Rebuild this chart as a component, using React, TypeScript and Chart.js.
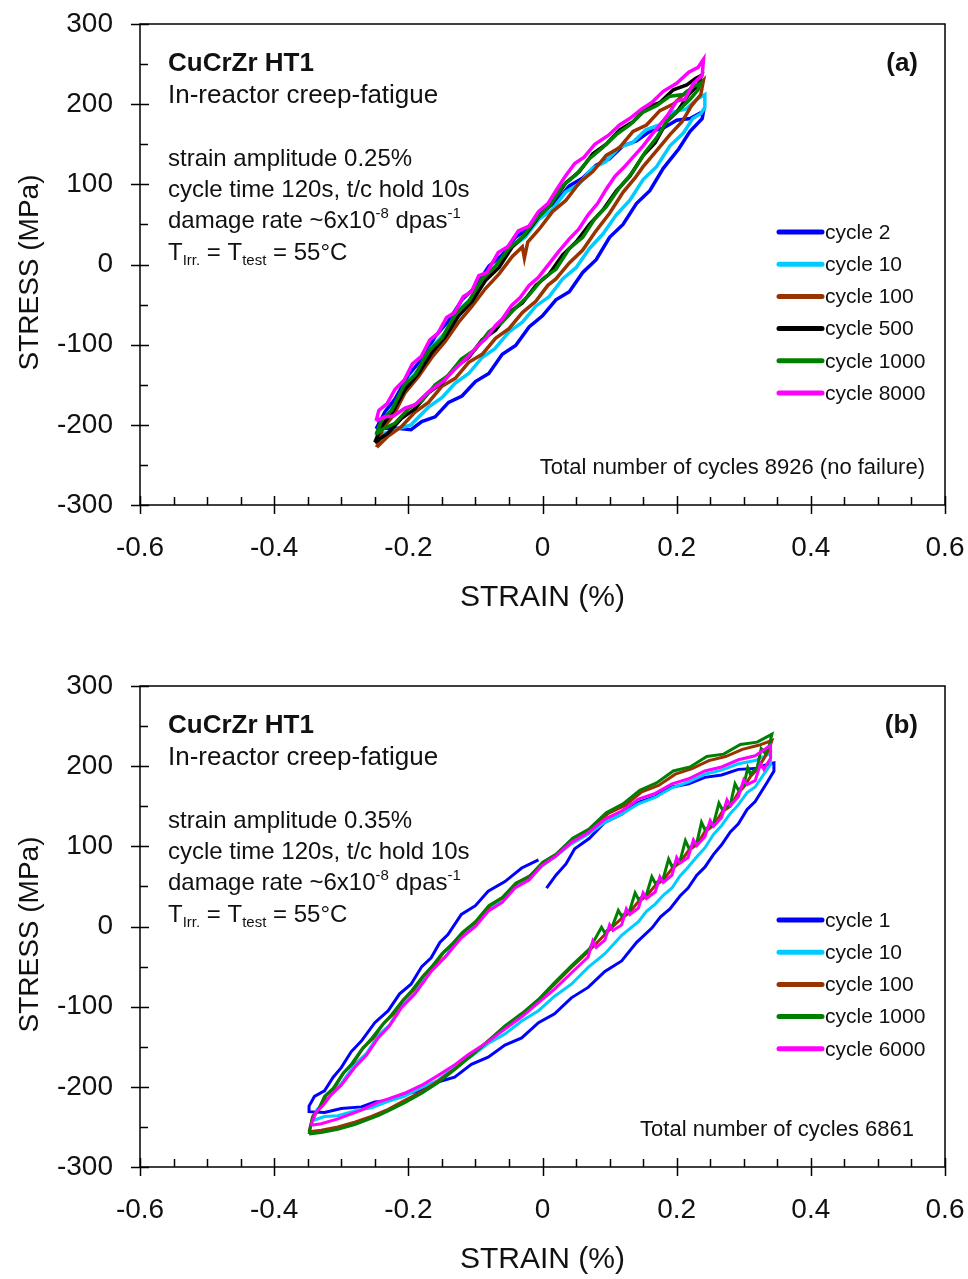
import React, { useEffect, useRef } from 'react';
import { Chart, registerables } from 'chart.js';

Chart.register(...registerables);

const FONT = '"Liberation Sans", Arial, Helvetica, sans-serif';
const TEXT = '#111111';

// ---------- axes ----------
const X_TICKS = [-0.6, -0.4, -0.2, 0, 0.2, 0.4, 0.6];
const Y_TICKS = [-300, -200, -100, 0, 100, 200, 300];
const X_TITLE = 'STRAIN (%)';
const Y_TITLE = 'STRESS (MPa)';

// ---------- panel (a) ----------
const A_LABELS = ['cycle 2', 'cycle 10', 'cycle 100', 'cycle 500', 'cycle 1000', 'cycle 8000'];
const A_COLORS = ['#0000FF', '#00CCFF', '#993300', '#000000', '#008000', '#FF00FF'];
const A_ORDER = [5, 4, 3, 2, 1, 0];

const A_CYCLE2: [number, number][] = [
  [-0.248, -205], [-0.235, -184], [-0.22, -168], [-0.2, -138], [-0.18, -118], [-0.16, -90], [-0.14, -70], [-0.12, -44],
  [-0.1, -28], [-0.08, -2], [-0.06, 12], [-0.04, 34], [-0.02, 46], [0, 66], [0.02, 78], [0.04, 98], [0.06, 108],
  [0.08, 124], [0.1, 132], [0.12, 148], [0.14, 154], [0.16, 166], [0.18, 170], [0.2, 180], [0.22, 182], [0.24, 191],
  [0.238, 182], [0.22, 166], [0.203, 144], [0.18, 120], [0.16, 92], [0.14, 76], [0.12, 50], [0.1, 34], [0.08, 6],
  [0.06, -10], [0.04, -34], [0.02, -44], [0, -64], [-0.02, -78], [-0.04, -101], [-0.06, -112], [-0.08, -136],
  [-0.1, -146], [-0.12, -164], [-0.14, -172], [-0.16, -190], [-0.18, -196], [-0.196, -206], [-0.22, -204], [-0.248, -205],
];
const A_CYCLE10: [number, number][] = [
  [-0.248, -214], [-0.238, -194], [-0.222, -178], [-0.204, -150], [-0.186, -132], [-0.166, -104], [-0.146, -86],
  [-0.126, -58], [-0.106, -42], [-0.086, -16], [-0.066, -2], [-0.046, 22], [-0.026, 34], [-0.006, 56], [0.014, 68],
  [0.034, 90], [0.054, 100], [0.074, 120], [0.094, 128], [0.114, 146], [0.134, 152], [0.154, 168], [0.174, 174],
  [0.194, 190], [0.214, 194], [0.23, 206], [0.242, 212],
  [0.242, 196], [0.236, 188], [0.224, 182], [0.21, 164], [0.19, 148], [0.17, 122], [0.15, 106], [0.13, 80], [0.11, 62],
  [0.09, 38], [0.07, 20], [0.05, -4], [0.03, -18], [0.01, -40], [-0.01, -52], [-0.03, -72], [-0.05, -84], [-0.071, -105],
  [-0.09, -116], [-0.11, -136], [-0.13, -148], [-0.15, -166], [-0.17, -178], [-0.196, -200], [-0.22, -206], [-0.248, -214],
];
const A_CYCLE100: [number, number][] = [
  [-0.247, -228], [-0.238, -204], [-0.222, -188], [-0.205, -160], [-0.185, -140], [-0.165, -116], [-0.145, -96],
  [-0.125, -72], [-0.105, -52], [-0.085, -30], [-0.065, -12], [-0.045, 10], [-0.03, 22], [-0.027, 8], [-0.022, 28],
  [-0.005, 44], [0.015, 66], [0.035, 80], [0.055, 102], [0.075, 116], [0.095, 136], [0.115, 146], [0.135, 166],
  [0.155, 174], [0.175, 192], [0.195, 200], [0.215, 216], [0.23, 222], [0.24, 230],
  [0.236, 212], [0.222, 198], [0.208, 178], [0.19, 162], [0.168, 140], [0.15, 122], [0.138, 108], [0.12, 90], [0.1, 64],
  [0.078, 40], [0.06, 18], [0.04, 2], [0.02, -18], [0.008, -26], [-0.01, -46], [-0.03, -60], [-0.05, -80], [-0.07, -92],
  [-0.09, -112], [-0.11, -122], [-0.13, -142], [-0.15, -152], [-0.17, -172], [-0.19, -184], [-0.21, -202], [-0.23, -214],
  [-0.247, -228],
];
const A_CYCLE500: [number, number][] = [
  [-0.25, -222], [-0.24, -202], [-0.222, -182], [-0.205, -156], [-0.185, -136], [-0.165, -110], [-0.145, -90],
  [-0.125, -64], [-0.105, -46], [-0.085, -20], [-0.065, -4], [-0.045, 22], [-0.025, 38], [-0.005, 60], [0.015, 78],
  [0.035, 102], [0.055, 116], [0.075, 138], [0.095, 150], [0.115, 168], [0.135, 178], [0.155, 196], [0.175, 202],
  [0.195, 218], [0.215, 224], [0.228, 232], [0.237, 236],
  [0.232, 224], [0.218, 212], [0.2, 190], [0.185, 178], [0.168, 152], [0.15, 136], [0.13, 110], [0.11, 92], [0.09, 68],
  [0.07, 50], [0.05, 28], [0.03, 12], [0.01, -12], [-0.01, -26], [-0.03, -48], [-0.05, -60], [-0.07, -82], [-0.09, -94],
  [-0.11, -116], [-0.13, -128], [-0.15, -148], [-0.17, -160], [-0.19, -180], [-0.21, -192], [-0.23, -210], [-0.25, -222],
];
const A_CYCLE1000: [number, number][] = [
  [-0.248, -212], [-0.24, -194], [-0.225, -182], [-0.206, -150], [-0.19, -138], [-0.17, -108], [-0.15, -92],
  [-0.13, -62], [-0.11, -46], [-0.09, -18], [-0.07, -2], [-0.05, 20], [-0.03, 34], [-0.01, 56], [0.01, 72], [0.03, 98],
  [0.05, 112], [0.07, 132], [0.09, 146], [0.11, 162], [0.13, 174], [0.15, 190], [0.17, 198], [0.19, 210], [0.21, 212],
  [0.225, 222], [0.235, 226],
  [0.232, 218], [0.22, 206], [0.205, 194], [0.188, 182], [0.17, 158], [0.153, 140], [0.135, 116], [0.115, 96],
  [0.095, 72], [0.078, 57], [0.06, 34], [0.04, 20], [0.02, -6], [0, -18], [-0.021, -39], [-0.04, -54], [-0.06, -72],
  [-0.08, -84], [-0.1, -106], [-0.121, -118], [-0.14, -138], [-0.16, -150], [-0.18, -170], [-0.2, -180], [-0.22, -198],
  [-0.24, -206], [-0.248, -212],
];
const A_CYCLE8000: [number, number][] = [
  [-0.248, -195], [-0.244, -182], [-0.232, -174], [-0.22, -156], [-0.206, -144], [-0.194, -124], [-0.181, -115],
  [-0.168, -94], [-0.156, -86], [-0.143, -66], [-0.131, -60], [-0.118, -40], [-0.106, -34], [-0.095, -14], [-0.083, -10],
  [-0.066, 15], [-0.052, 22], [-0.036, 42], [-0.02, 48], [-0.006, 66], [0.008, 76], [0.02, 92], [0.034, 110],
  [0.048, 126], [0.062, 134], [0.078, 150], [0.098, 161], [0.115, 174], [0.13, 182], [0.148, 194], [0.163, 202],
  [0.18, 216], [0.2, 226], [0.218, 240], [0.232, 246], [0.24, 256],
  [0.238, 236], [0.225, 226], [0.212, 206], [0.2, 204], [0.188, 188], [0.175, 174], [0.163, 162], [0.15, 148],
  [0.135, 134], [0.12, 120], [0.108, 110], [0.095, 94], [0.082, 76], [0.068, 62], [0.054, 44], [0.04, 32], [0.024, 16],
  [0.008, -1], [-0.006, -16], [-0.02, -26], [-0.034, -42], [-0.046, -51], [-0.06, -68], [-0.07, -76], [-0.084, -92],
  [-0.096, -101], [-0.112, -116], [-0.13, -130], [-0.148, -146], [-0.17, -159], [-0.19, -175], [-0.205, -179],
  [-0.222, -189], [-0.235, -190], [-0.248, -195],
];

// ---------- panel (b) ----------
const B_LABELS = ['cycle 1', 'cycle 10', 'cycle 100', 'cycle 1000', 'cycle 6000'];
const B_COLORS = ['#0000FF', '#00CCFF', '#993300', '#008000', '#FF00FF'];
const B_ORDER = [4, 3, 2, 1, 0];

const B_CYCLE1: [number, number][] = [
  [0.006, 48], [0.02, 64], [0.035, 78], [0.048, 97], [0.07, 110], [0.093, 130], [0.118, 140], [0.143, 155], [0.168, 162],
  [0.193, 174], [0.218, 178], [0.242, 186], [0.267, 189], [0.292, 196], [0.317, 197], [0.335, 202], [0.345, 204],
  [0.345, 194], [0.335, 180], [0.317, 156], [0.305, 146], [0.292, 128], [0.28, 118], [0.267, 102], [0.255, 90],
  [0.242, 74], [0.23, 64], [0.217, 48], [0.205, 38], [0.19, 22], [0.176, 12], [0.163, -2], [0.14, -20], [0.118, -43],
  [0.093, -56], [0.068, -76], [0.043, -89], [0.018, -109], [-0.006, -120], [-0.031, -139], [-0.056, -148], [-0.081, -163],
  [-0.106, -172], [-0.131, -188], [-0.156, -194], [-0.181, -205], [-0.206, -209], [-0.23, -217], [-0.25, -219],
  [-0.27, -225], [-0.3, -227], [-0.325, -232], [-0.348, -231],
  [-0.348, -224], [-0.34, -212], [-0.325, -205], [-0.312, -188], [-0.3, -176], [-0.285, -156], [-0.27, -143],
  [-0.25, -120], [-0.23, -105], [-0.213, -84], [-0.196, -72], [-0.18, -50], [-0.166, -39], [-0.153, -20], [-0.141, -10],
  [-0.121, 15], [-0.1, 26], [-0.081, 44], [-0.056, 56], [-0.031, 73], [-0.006, 83],
];
const B_CYCLE10: [number, number][] = [
  [-0.342, -242], [-0.336, -228], [-0.326, -222], [-0.313, -206], [-0.3, -196], [-0.28, -172], [-0.262, -158],
  [-0.245, -136], [-0.228, -123], [-0.21, -98], [-0.19, -82], [-0.166, -53], [-0.145, -38], [-0.121, -11], [-0.1, 1],
  [-0.081, 22], [-0.06, 31], [-0.041, 49], [-0.02, 60], [-0.001, 75], [0.02, 88], [0.043, 103], [0.068, 115],
  [0.093, 130], [0.118, 140], [0.143, 153], [0.168, 161], [0.193, 173], [0.217, 180], [0.242, 190], [0.267, 195],
  [0.292, 203], [0.317, 207], [0.34, 216],
  [0.34, 202], [0.33, 190], [0.317, 174], [0.305, 167], [0.292, 152], [0.28, 141], [0.267, 126], [0.255, 115],
  [0.242, 98], [0.23, 87], [0.217, 74], [0.205, 63], [0.193, 48], [0.18, 39], [0.168, 28], [0.155, 19], [0.143, 6],
  [0.118, -11], [0.093, -34], [0.068, -51], [0.043, -72], [0.018, -87], [-0.006, -105], [-0.031, -118], [-0.056, -134],
  [-0.081, -146], [-0.106, -162], [-0.131, -175], [-0.156, -192], [-0.181, -201], [-0.206, -212], [-0.23, -218],
  [-0.255, -226], [-0.28, -230], [-0.305, -236], [-0.325, -237], [-0.342, -242],
];
const B_CYCLE100: [number, number][] = [
  [-0.348, -256], [-0.342, -236], [-0.333, -228], [-0.322, -210], [-0.31, -201], [-0.296, -182], [-0.282, -170],
  [-0.267, -151], [-0.252, -139], [-0.237, -121], [-0.222, -109], [-0.207, -91], [-0.192, -79], [-0.177, -61],
  [-0.162, -49], [-0.147, -32], [-0.132, -21], [-0.117, -6], [-0.097, 7], [-0.077, 27], [-0.057, 37], [-0.037, 55],
  [-0.017, 64], [0.003, 81], [0.023, 91], [0.048, 111], [0.073, 122], [0.098, 141], [0.123, 151], [0.148, 168],
  [0.173, 176], [0.198, 190], [0.223, 197], [0.248, 207], [0.273, 212], [0.298, 221], [0.322, 226], [0.342, 232],
  [0.338, 222], [0.332, 212], [0.32, 196], [0.31, 187], [0.3, 174], [0.292, 167], [0.28, 150], [0.268, 143],
  [0.255, 126], [0.242, 118], [0.23, 102], [0.218, 95], [0.205, 80], [0.193, 72], [0.18, 58], [0.168, 51], [0.155, 38],
  [0.143, 31], [0.13, 18], [0.118, 10], [0.105, 0], [0.093, -10], [0.07, -30], [0.043, -51], [0.018, -72],
  [-0.006, -92], [-0.03, -109], [-0.056, -125], [-0.08, -142], [-0.106, -160], [-0.13, -177], [-0.156, -193],
  [-0.18, -206], [-0.206, -217], [-0.23, -228], [-0.255, -237], [-0.28, -244], [-0.305, -250], [-0.33, -254],
  [-0.348, -256],
];
const B_CYCLE1000: [number, number][] = [
  [-0.348, -259], [-0.343, -238], [-0.335, -230], [-0.325, -212], [-0.312, -202], [-0.298, -184], [-0.285, -172],
  [-0.27, -154], [-0.255, -140], [-0.24, -124], [-0.225, -110], [-0.21, -94], [-0.195, -80], [-0.18, -64], [-0.165, -50],
  [-0.15, -34], [-0.135, -22], [-0.12, -8], [-0.1, 6], [-0.08, 26], [-0.06, 36], [-0.04, 54], [-0.02, 62], [0, 80],
  [0.02, 90], [0.045, 110], [0.07, 122], [0.095, 142], [0.12, 153], [0.145, 170], [0.17, 179], [0.195, 194],
  [0.22, 199], [0.245, 212], [0.27, 215], [0.295, 227], [0.32, 230], [0.342, 240],
  [0.338, 226], [0.332, 216], [0.326, 222], [0.32, 198], [0.31, 190], [0.306, 198], [0.3, 176], [0.292, 170],
  [0.287, 178], [0.28, 152], [0.268, 146], [0.263, 154], [0.255, 128], [0.242, 121], [0.237, 130], [0.23, 104],
  [0.218, 98], [0.213, 107], [0.205, 82], [0.193, 75], [0.188, 84], [0.18, 60], [0.168, 54], [0.163, 62], [0.155, 40],
  [0.143, 34], [0.138, 42], [0.13, 20], [0.118, 13], [0.113, 20], [0.105, 2], [0.093, -8], [0.088, -1], [0.07, -28],
  [0.043, -49], [0.018, -70], [-0.006, -91], [-0.03, -108], [-0.056, -124], [-0.08, -142], [-0.106, -161],
  [-0.13, -178], [-0.156, -195], [-0.18, -208], [-0.206, -220], [-0.23, -230], [-0.245, -236], [-0.28, -247],
  [-0.305, -253], [-0.33, -257], [-0.348, -259],
];
const B_CYCLE6000: [number, number][] = [
  [-0.345, -248], [-0.338, -232], [-0.328, -224], [-0.315, -210], [-0.3, -198], [-0.28, -176], [-0.262, -160],
  [-0.245, -139], [-0.228, -124], [-0.21, -101], [-0.19, -84], [-0.166, -56], [-0.145, -38], [-0.121, -14], [-0.1, 0],
  [-0.081, 19], [-0.06, 30], [-0.041, 48], [-0.02, 58], [-0.001, 76], [0.02, 88], [0.043, 105], [0.068, 117],
  [0.093, 134], [0.118, 144], [0.143, 159], [0.168, 166], [0.193, 178], [0.217, 184], [0.242, 194], [0.267, 199],
  [0.292, 208], [0.317, 213], [0.34, 226],
  [0.34, 210], [0.33, 196], [0.325, 203], [0.317, 182], [0.305, 177], [0.3, 183], [0.292, 162], [0.28, 151],
  [0.275, 158], [0.267, 136], [0.255, 125], [0.25, 132], [0.242, 112], [0.23, 101], [0.225, 108], [0.217, 86],
  [0.205, 79], [0.2, 86], [0.193, 64], [0.18, 55], [0.175, 62], [0.168, 43], [0.155, 35], [0.15, 42], [0.143, 23],
  [0.13, 15], [0.125, 22], [0.118, 2], [0.105, -5], [0.1, 2], [0.093, -17], [0.08, -26], [0.075, -18], [0.068, -38],
  [0.043, -58], [0.018, -78], [-0.006, -95], [-0.03, -112], [-0.056, -128], [-0.08, -143], [-0.111, -160],
  [-0.13, -172], [-0.156, -186], [-0.18, -198], [-0.206, -208], [-0.23, -215], [-0.245, -219], [-0.27, -229],
  [-0.305, -240], [-0.33, -246], [-0.345, -248],
];

// ---------- annotation text ----------
const TITLE = 'CuCrZr HT1';
const SUBTITLE = 'In-reactor creep-fatigue';
const A_AMPLITUDE = 'strain amplitude 0.25%';
const B_AMPLITUDE = 'strain amplitude 0.35%';
const CYCLE_TIME = 'cycle time 120s, t/c hold 10s';
const A_TAG = '(a)';
const B_TAG = '(b)';
const A_TOTAL = 'Total number of cycles 8926 (no failure)';
const B_TOTAL = 'Total number of cycles 6861';

type Seg = { t: string; sup?: boolean; sub?: boolean };
const DAMAGE: Seg[] = [{ t: 'damage rate ~6x10' }, { t: '-8', sup: true }, { t: ' dpas' }, { t: '-1', sup: true }];
const TEMP: Seg[] = [{ t: 'T' }, { t: 'Irr.', sub: true }, { t: ' = T' }, { t: 'test', sub: true }, { t: ' = 55°C' }];

type PanelInfo = {
  tag: string;
  amplitude: string;
  total: string;
  totalRight: number;
  legendTop: number;
  labels: string[];
  colors: string[];
  lineWidth: number;
};

function drawRich(ctx: CanvasRenderingContext2D, x: number, y: number, segs: Seg[], size: number) {
  let cx = x;
  for (const s of segs) {
    const small = s.sup || s.sub;
    const fs = small ? Math.round(size * 0.62) : size;
    ctx.font = `${fs}px ${FONT}`;
    const dy = s.sup ? -size * 0.4 : s.sub ? size * 0.2 : 0;
    ctx.fillText(s.t, cx, y + dy);
    cx += ctx.measureText(s.t).width;
  }
}

function makeDecor(info: PanelInfo) {
  return {
    id: 'decor',
    afterDraw(chart: any) {
      const { ctx, chartArea: ca, scales } = chart;
      const xs = scales.x;
      const ys = scales.y;
      ctx.save();
      // frame
      ctx.strokeStyle = '#000';
      ctx.lineWidth = 1.5;
      ctx.strokeRect(ca.left, ca.top, ca.right - ca.left, ca.bottom - ca.top);
      // tick marks
      ctx.beginPath();
      for (let i = 0; i < X_TICKS.length; i++) {
        const px = Math.round(xs.getPixelForValue(X_TICKS[i])) + 0.5;
        ctx.moveTo(px, ca.bottom - 9);
        ctx.lineTo(px, ca.bottom + 9);
        if (i < X_TICKS.length - 1) {
          const step = (X_TICKS[i + 1] - X_TICKS[i]) / 4;
          for (let k = 1; k < 4; k++) {
            const mx = Math.round(xs.getPixelForValue(X_TICKS[i] + k * step)) + 0.5;
            ctx.moveTo(mx, ca.bottom);
            ctx.lineTo(mx, ca.bottom - 8);
          }
        }
      }
      for (let i = 0; i < Y_TICKS.length; i++) {
        const py = Math.round(ys.getPixelForValue(Y_TICKS[i])) + 0.5;
        ctx.moveTo(ca.left - 9, py);
        ctx.lineTo(ca.left + 9, py);
        if (i < Y_TICKS.length - 1) {
          const my = Math.round(ys.getPixelForValue((Y_TICKS[i] + Y_TICKS[i + 1]) / 2)) + 0.5;
          ctx.moveTo(ca.left, my);
          ctx.lineTo(ca.left + 8, my);
        }
      }
      ctx.stroke();

      // y-axis title
      ctx.fillStyle = TEXT;
      ctx.save();
      ctx.translate(30, (ca.top + ca.bottom) / 2 + 8);
      ctx.rotate(-Math.PI / 2);
      ctx.textAlign = 'center';
      ctx.textBaseline = 'middle';
      ctx.font = `28px ${FONT}`;
      ctx.fillText(Y_TITLE, 0, 0);
      ctx.restore();

      // annotation text
      ctx.textBaseline = 'alphabetic';
      ctx.textAlign = 'left';
      const tx = ca.left + 28;
      ctx.font = `bold 26px ${FONT}`;
      ctx.fillText(TITLE, tx, ca.top + 47);
      ctx.font = `26px ${FONT}`;
      ctx.fillText(SUBTITLE, tx, ca.top + 79);
      ctx.font = `24px ${FONT}`;
      ctx.fillText(info.amplitude, tx, ca.top + 142);
      ctx.fillText(CYCLE_TIME, tx, ca.top + 173);
      drawRich(ctx, tx, ca.top + 204, DAMAGE, 24);
      drawRich(ctx, tx, ca.top + 236, TEMP, 24);
      ctx.textAlign = 'right';
      ctx.font = `bold 26px ${FONT}`;
      ctx.fillText(info.tag, ca.right - 27, ca.top + 47);
      ctx.font = `22px ${FONT}`;
      ctx.fillText(info.total, info.totalRight, ca.top + 450);

      // legend
      ctx.textAlign = 'left';
      ctx.textBaseline = 'middle';
      ctx.font = `21px ${FONT}`;
      ctx.lineCap = 'round';
      for (let i = 0; i < info.labels.length; i++) {
        const y = info.legendTop + i * 32.2;
        ctx.strokeStyle = info.colors[i];
        ctx.lineWidth = 5;
        ctx.beginPath();
        ctx.moveTo(779, y);
        ctx.lineTo(822, y);
        ctx.stroke();
        ctx.fillStyle = TEXT;
        ctx.fillText(info.labels[i], 825, y + 1);
      }
      ctx.restore();
    },
  };
}

function buildConfig(series: [number, number][][], info: PanelInfo, orders: number[]) {
  const datasets = series.map((arr, i) => ({
    label: info.labels[i],
    data: arr.map(([x, y]) => ({ x, y })),
    borderColor: info.colors[i],
    backgroundColor: info.colors[i],
    borderWidth: info.lineWidth,
    showLine: true,
    pointRadius: 0,
    tension: 0,
    fill: false,
    order: orders[i],
  }));
  return {
    type: 'scatter' as const,
    data: { datasets },
    options: {
      animation: false as const,
      responsive: false,
      maintainAspectRatio: false,
      devicePixelRatio: 1,
      layout: { padding: { top: 24, right: 23, left: 0, bottom: 0 } },
      plugins: { legend: { display: false }, tooltip: { enabled: false } },
      scales: {
        x: {
          type: 'linear' as const,
          min: -0.6,
          max: 0.6,
          afterBuildTicks: (s: any) => {
            s.ticks = X_TICKS.map((v) => ({ value: v }));
          },
          afterFit: (s: any) => {
            s.height = 112;
            s.paddingLeft = 0;
            s.paddingRight = 0;
            s.paddingTop = 0;
            s.paddingBottom = 0;
          },
          grid: { display: false, drawTicks: false },
          border: { display: false },
          ticks: {
            padding: 26,
            color: TEXT,
            font: { family: FONT, size: 28 },
            maxRotation: 0,
            autoSkip: false,
            callback: (v: any) => (Math.abs(Number(v)) < 1e-9 ? '0' : Number(v).toFixed(1)),
          },
          title: { display: true, text: X_TITLE, color: TEXT, font: { family: FONT, size: 30 }, padding: { top: 0, bottom: 1 } },
        },
        y: {
          type: 'linear' as const,
          min: -300,
          max: 300,
          afterBuildTicks: (s: any) => {
            s.ticks = Y_TICKS.map((v) => ({ value: v }));
          },
          afterFit: (s: any) => {
            s.width = 140;
            s.paddingLeft = 0;
            s.paddingRight = 0;
            s.paddingTop = 0;
            s.paddingBottom = 0;
          },
          grid: { display: false, drawTicks: false },
          border: { display: false },
          ticks: {
            padding: 27,
            color: TEXT,
            font: { family: FONT, size: 28 },
            autoSkip: false,
            callback: (v: any) => String(Math.round(Number(v))),
          },
          title: { display: false },
        },
      },
    },
    plugins: [makeDecor(info)],
  };
}

function Panel(props: { top: number; series: [number, number][][]; info: PanelInfo; orders: number[] }) {
  const ref = useRef<HTMLCanvasElement | null>(null);
  useEffect(() => {
    if (!ref.current) return;
    const chart = new Chart(ref.current, buildConfig(props.series, props.info, props.orders) as any);
    return () => chart.destroy();
  }, []);
  return (
    <canvas
      ref={ref}
      width={968}
      height={617}
      style={{ position: 'absolute', left: 0, top: props.top, width: 968, height: 617, display: 'block' }}
    />
  );
}

const A_INFO: PanelInfo = {
  tag: A_TAG,
  amplitude: A_AMPLITUDE,
  total: A_TOTAL,
  totalRight: 925,
  legendTop: 232,
  labels: A_LABELS,
  colors: A_COLORS,
  lineWidth: 3.5,
};
const B_INFO: PanelInfo = {
  tag: B_TAG,
  amplitude: B_AMPLITUDE,
  total: B_TOTAL,
  totalRight: 914,
  legendTop: 258,
  labels: B_LABELS,
  colors: B_COLORS,
  lineWidth: 3,
};

export default function App() {
  return (
    <div style={{ position: 'absolute', left: 0, top: 0, width: 968, height: 1279, background: '#fff', overflow: 'hidden' }}>
      <Panel top={0} info={A_INFO} orders={A_ORDER} series={[A_CYCLE2, A_CYCLE10, A_CYCLE100, A_CYCLE500, A_CYCLE1000, A_CYCLE8000]} />
      <Panel top={662} info={B_INFO} orders={B_ORDER} series={[B_CYCLE1, B_CYCLE10, B_CYCLE100, B_CYCLE1000, B_CYCLE6000]} />
    </div>
  );
}
